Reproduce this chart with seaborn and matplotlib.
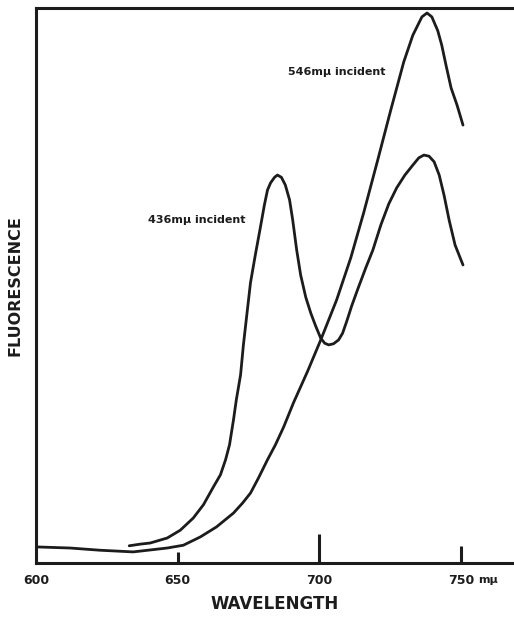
import matplotlib
matplotlib.use("Agg")
from matplotlib import pyplot as plt
from matplotlib import transforms
import numpy as np
import pandas as pd
import seaborn as sns

sns.set_style("white")
plt.rcParams["font.family"] = ["DejaVu Sans"]

# 436 mμ incident light
wl_436 = [632.9, 636.8, 640.3, 646.3, 650.9, 655.5, 659.1, 662.6, 665.1, 666.9,
          668.3, 669.7, 670.7, 672.2, 673.2, 674.6, 675.7, 677.4, 679.2, 680.6,
          681.7, 682.8, 684.2, 685.2, 686.6, 688.0, 689.5, 690.6, 692.0, 693.4,
          695.2, 697.0, 698.7, 700.5, 701.9, 703.3, 705.0, 706.8, 708.2, 709.7,
          711.4, 713.6, 716.4, 718.9, 721.7, 724.5, 727.3, 730.2, 733.0, 735.1,
          736.9, 738.7, 740.5, 742.3, 744.0, 745.8, 747.9, 750.7]
fl_436 = [3.1, 3.4, 3.6, 4.5, 5.9, 8.1, 10.5, 13.7, 15.9, 18.6,
          21.3, 25.8, 29.4, 33.9, 39.3, 45.6, 50.5, 55.5, 60.5, 64.5,
          67.2, 68.5, 69.5, 69.9, 69.5, 68.1, 65.4, 61.8, 56.4, 51.9,
          47.9, 45.0, 42.7, 40.5, 39.6, 39.3, 39.5, 40.2, 41.4, 43.6,
          46.3, 49.4, 53.2, 56.4, 60.9, 64.7, 67.6, 69.9, 71.7, 73.0,
          73.5, 73.3, 72.3, 69.9, 66.3, 61.8, 57.3, 53.7]

# 546 mμ incident light
wl_546 = [600.0, 612.0, 622.6, 634.3, 646.3, 652.0, 658.0, 663.7, 669.7, 672.9,
          675.7, 678.5, 681.7, 684.5, 687.4, 690.9, 695.9, 700.5, 706.1, 711.1,
          715.7, 720.6, 725.2, 729.8, 733.0, 736.2, 738.0,
          739.7, 741.8, 743.2, 744.7, 746.5, 748.6, 750.7]
fl_546 = [2.9, 2.7, 2.3, 2.0, 2.7, 3.2, 4.7, 6.5, 9.0, 10.8,
          12.6, 15.3, 18.6, 21.3, 24.5, 28.9, 34.6, 40.2, 47.4, 55.0,
          63.2, 72.6, 81.6, 90.3, 95.1, 98.4, 99.1,
          98.4, 95.9, 93.3, 89.7, 85.6, 82.5, 78.9]

tick_pos = [600, 650, 700, 750]
tick_lab = ["600", "650", "700", "750"]

df = pd.concat([
    pd.DataFrame({"wavelength": wl_436, "fluorescence": fl_436, "incident": "436"}),
    pd.DataFrame({"wavelength": wl_546, "fluorescence": fl_546, "incident": "546"}),
])

fig = plt.figure(figsize=(5.14, 6.21), dpi=100)
ax = fig.add_axes([36 / 514, 58 / 621, 1 - 36 / 514, 555 / 621])

ink = "#1c1c1c"
sns.lineplot(data=df, x="wavelength", y="fluorescence", hue="incident",
             palette={"436": ink, "546": ink}, estimator=None, sort=False,
             linewidth=2.0, legend=False, ax=ax)
for l in ax.lines:
    l.set_solid_joinstyle("round")
    l.set_solid_capstyle("round")

ax.set_xlim(600, 768.7)
ax.set_ylim(0, 100)
ax.set_yticks([])
ax.set_xticks(tick_pos)
ax.set_xticklabels(tick_lab, fontsize=9, fontweight="bold", color=ink)
ax.tick_params(axis="x", bottom=True, direction="in", width=2.2, color=ink, pad=8)
# the tick marks have different lengths in the original
for t, L in zip(ax.xaxis.get_major_ticks(), [0, 8, 21, 12]):
    t.tick1line.set_markersize(L)

for s in ["left", "top", "bottom"]:
    ax.spines[s].set_linewidth(2.2)
    ax.spines[s].set_color(ink)
ax.spines["right"].set_visible(False)

trans = transforms.blended_transform_factory(ax.transData, ax.transAxes)
ax.text(759.5, -0.031, "mμ", transform=trans, ha="center", va="center",
        fontsize=8, fontweight="bold", color=ink)

ax.set_xlabel("WAVELENGTH", fontsize=12, fontweight="bold", color=ink, labelpad=6)
ax.set_ylabel("FLUORESCENCE", fontsize=11.5, fontweight="bold", color=ink, labelpad=10)

ax.text(706.1, 88.5, "546mμ incident", ha="center", va="center",
        fontsize=8, fontweight="bold", color=ink)
ax.text(656.6, 61.8, "436mμ incident", ha="center", va="center",
        fontsize=8, fontweight="bold", color=ink)

fig.savefig("out.png", dpi=100)
